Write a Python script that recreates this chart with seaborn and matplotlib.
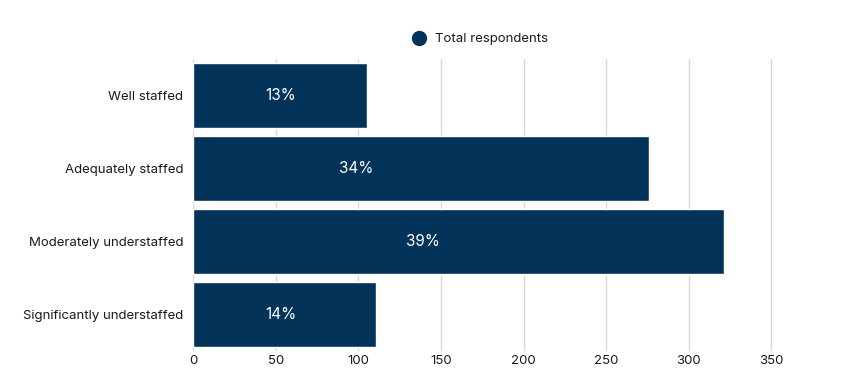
import matplotlib
matplotlib.use("Agg")
import matplotlib.pyplot as plt
import seaborn as sns
import pandas as pd
from matplotlib.lines import Line2D

categories = ["Well staffed", "Adequately staffed", "Moderately understaffed", "Significantly understaffed"]
respondents = [105, 276, 321, 111]
pct_labels = ["13%", "34%", "39%", "14%"]
# where the percentage labels sit along the x axis (data units)
label_x = [53, 99, 139, 53]

bar_color = "#04335a"
text_color = "#1a1a1a"

sns.set_theme(style="white")
plt.rcParams["font.family"] = ["Inter", "DejaVu Sans"]

df = pd.DataFrame({"category": categories, "respondents": respondents})

fig = plt.figure(figsize=(8.45, 3.8), dpi=100)
ax = fig.add_axes([0.2284, 0.0763, 0.7041, 0.7684])

sns.barplot(data=df, y="category", x="respondents", color=bar_color,
            width=0.89, saturation=1, ax=ax, zorder=2)

for patch, lab, lx in zip(ax.patches, pct_labels, label_x):
    y = patch.get_y() + patch.get_height() / 2
    ax.text(lx, y, lab, ha="center", va="center", color="white", fontsize=11, zorder=3)

ax.set_xlim(0, 360)
ax.set_xticks(range(0, 351, 50))
ax.grid(axis="x", color="#d9d9d9", linewidth=1, zorder=0)
ax.set_axisbelow(True)
for s in ax.spines.values():
    s.set_visible(False)
ax.set_xlabel("")
ax.set_ylabel("")
ax.tick_params(axis="both", length=0, labelsize=9.5, colors=text_color)
ax.tick_params(axis="y", pad=7)
ax.tick_params(axis="x", pad=3)

handle = Line2D([], [], marker="o", linestyle="", markersize=10, color=bar_color)
fig.legend([handle], ["Total respondents"], loc="center", bbox_to_anchor=(0.564, 0.897),
           frameon=False, fontsize=9.5, handletextpad=0.2, labelcolor=text_color)

fig.savefig("out.png", dpi=100)
